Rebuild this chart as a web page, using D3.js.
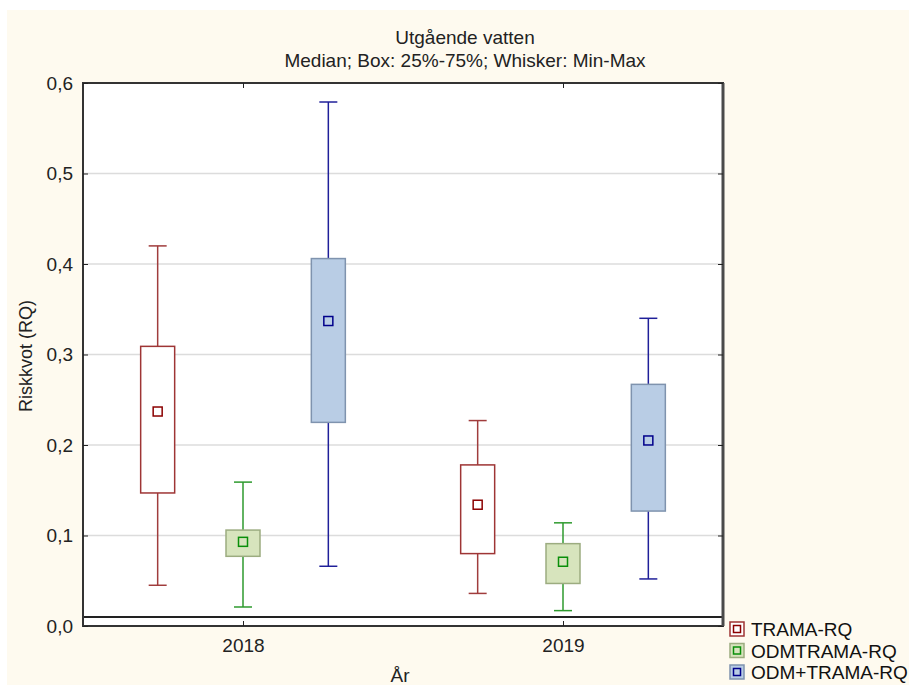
<!DOCTYPE html>
<html><head><meta charset="utf-8">
<script src="https://cdn.jsdelivr.net/npm/d3@7"></script>
<style>body{margin:0;background:#fff}svg{display:block}text{font-family:"Liberation Sans",Arial,sans-serif}</style>
</head><body>
<svg id="c" width="909" height="685"></svg>
<script>
const years = ["2018", "2019"];
const series = ["TRAMA-RQ", "ODMTRAMA-RQ", "ODM+TRAMA-RQ"];
// [min, q1, median, q3, max] per year for each series
const tramaRQ      = [[0.045, 0.147, 0.237, 0.309, 0.420], [0.036, 0.080, 0.134, 0.178, 0.227]];
const odmtramaRQ   = [[0.021, 0.077, 0.093, 0.106, 0.159], [0.017, 0.047, 0.071, 0.091, 0.114]];
const odmPlusRQ    = [[0.066, 0.225, 0.337, 0.406, 0.579], [0.052, 0.127, 0.205, 0.267, 0.340]];
const yTicks = [0, 0.1, 0.2, 0.3, 0.4, 0.5, 0.6];
const refLine = 0.01;

const styles = {
  "TRAMA-RQ":     {fill:"#ffffff", stroke:"#9e3535", whisk:"#a03c3c", mark:"#8b0000"},
  "ODMTRAMA-RQ":  {fill:"#d7e4bd", stroke:"#9cac80", whisk:"#2e9a2e", mark:"#0a8f0a"},
  "ODM+TRAMA-RQ": {fill:"#b9cde5", stroke:"#7f93ae", whisk:"#1f1f99", mark:"#00008b"}
};
const dataBySeries = {"TRAMA-RQ": tramaRQ, "ODMTRAMA-RQ": odmtramaRQ, "ODM+TRAMA-RQ": odmPlusRQ};

const svg = d3.select("#c");
svg.append("rect").attr("x",7).attr("y",10).attr("width",902).attr("height",675).attr("fill","#fefaef");

const L=83, R=723, T=83, B=626;
svg.append("rect").attr("x",L).attr("y",T).attr("width",R-L).attr("height",B-T).attr("fill","#fff");

const x = d3.scalePoint().domain(years).range([L,R]).padding(0.5);
const xs = d3.scaleBand().domain(series).range([-128,128]);
const y = d3.scaleLinear().domain([0,0.6]).range([B,T]);

// grid
svg.append("g").selectAll("line").data(yTicks.filter(d=>d>0&&d<0.6)).join("line")
  .attr("x1",L).attr("x2",R).attr("y1",d=>y(d)).attr("y2",d=>y(d))
  .attr("stroke","#dcdcdc").attr("stroke-width",1.5);

const fmt = d => d3.format(".1f")(d).replace(".", ",");

// boxes
const boxW = 34, capW = 18, mk = 9;
series.forEach(s => {
  const st = styles[s];
  dataBySeries[s].forEach((v, i) => {
    const cx = x(years[i]) + xs(s) + xs.bandwidth()/2;
    const g = svg.append("g");
    g.append("line").attr("x1",cx).attr("x2",cx).attr("y1",y(v[4])).attr("y2",y(v[3])).attr("stroke",st.whisk).attr("stroke-width",1.5);
    g.append("line").attr("x1",cx).attr("x2",cx).attr("y1",y(v[1])).attr("y2",y(v[0])).attr("stroke",st.whisk).attr("stroke-width",1.5);
    g.append("line").attr("x1",cx-capW/2).attr("x2",cx+capW/2).attr("y1",y(v[4])).attr("y2",y(v[4])).attr("stroke",st.whisk).attr("stroke-width",1.5);
    g.append("line").attr("x1",cx-capW/2).attr("x2",cx+capW/2).attr("y1",y(v[0])).attr("y2",y(v[0])).attr("stroke",st.whisk).attr("stroke-width",1.5);
    g.append("rect").attr("x",cx-boxW/2).attr("y",y(v[3])).attr("width",boxW).attr("height",y(v[1])-y(v[3]))
      .attr("fill",st.fill).attr("stroke",st.stroke).attr("stroke-width",1.5);
    g.append("rect").attr("x",cx-mk/2).attr("y",y(v[2])-mk/2).attr("width",mk).attr("height",mk)
      .attr("fill",st.fill).attr("stroke",st.mark).attr("stroke-width",1.5);
  });
});

// reference line
svg.append("line").attr("x1",L).attr("x2",R).attr("y1",y(refLine)).attr("y2",y(refLine)).attr("stroke","#222").attr("stroke-width",2);

// frame
svg.append("rect").attr("x",L).attr("y",T).attr("width",R-L).attr("height",B-T).attr("fill","none").attr("stroke","#333").attr("stroke-width",2);
svg.append("line").attr("x1",R).attr("x2",R).attr("y1",T).attr("y2",B).attr("stroke","#4a4a4a").attr("stroke-width",3);

// axes
const ax = svg.append("g").attr("transform",`translate(${L},0)`).call(d3.axisLeft(y).tickValues(yTicks).tickFormat(fmt).tickSizeInner(-5).tickSizeOuter(0).tickPadding(10));
ax.select(".domain").remove();
ax.selectAll("line").attr("stroke","#222");
ax.selectAll("text").attr("font-size",19).attr("fill","#222");

const axR = svg.append("g").attr("transform",`translate(${R},0)`).call(d3.axisRight(y).tickValues(yTicks).tickFormat("").tickSizeInner(-5).tickSizeOuter(0));
axR.select(".domain").remove(); axR.selectAll("line").attr("stroke","#222");

const bx = svg.append("g").attr("transform",`translate(0,${B})`).call(d3.axisBottom(x).tickSizeInner(-5).tickSizeOuter(0).tickPadding(13));
bx.select(".domain").remove();
bx.selectAll("line").attr("stroke","#222");
bx.selectAll("text").attr("font-size",19).attr("fill","#222");

const tx = svg.append("g").attr("transform",`translate(0,${T})`).call(d3.axisTop(x).tickFormat("").tickSizeInner(-5).tickSizeOuter(0));
tx.select(".domain").remove(); tx.selectAll("line").attr("stroke","#222");

// titles
svg.append("text").attr("x",465).attr("y",44).attr("text-anchor","middle").attr("font-size",19).attr("fill","#222").text("Utgående vatten");
svg.append("text").attr("x",465).attr("y",67).attr("text-anchor","middle").attr("font-size",19).attr("fill","#222").text("Median; Box: 25%-75%; Whisker: Min-Max");
svg.append("text").attr("x",400).attr("y",682).attr("text-anchor","middle").attr("font-size",19).attr("fill","#222").text("År");
svg.append("text").attr("transform","translate(32,356) rotate(-90)").attr("text-anchor","middle").attr("font-size",18).attr("fill","#222").text("Riskkvot (RQ)");

// legend
const lg = svg.append("g");
series.forEach((s,i) => {
  const st = styles[s];
  const yy = 629 + i*21.5;
  lg.append("rect").attr("x",730).attr("y",yy-7).attr("width",14).attr("height",14).attr("fill",st.fill).attr("stroke",st.stroke).attr("stroke-width",1.5);
  lg.append("rect").attr("x",733.5).attr("y",yy-3.5).attr("width",7).attr("height",7).attr("fill",st.fill).attr("stroke",st.mark).attr("stroke-width",1.5);
  lg.append("text").attr("x",751).attr("y",yy+7).attr("font-size",19).attr("fill","#111").text(s);
});
</script>
</body></html>
